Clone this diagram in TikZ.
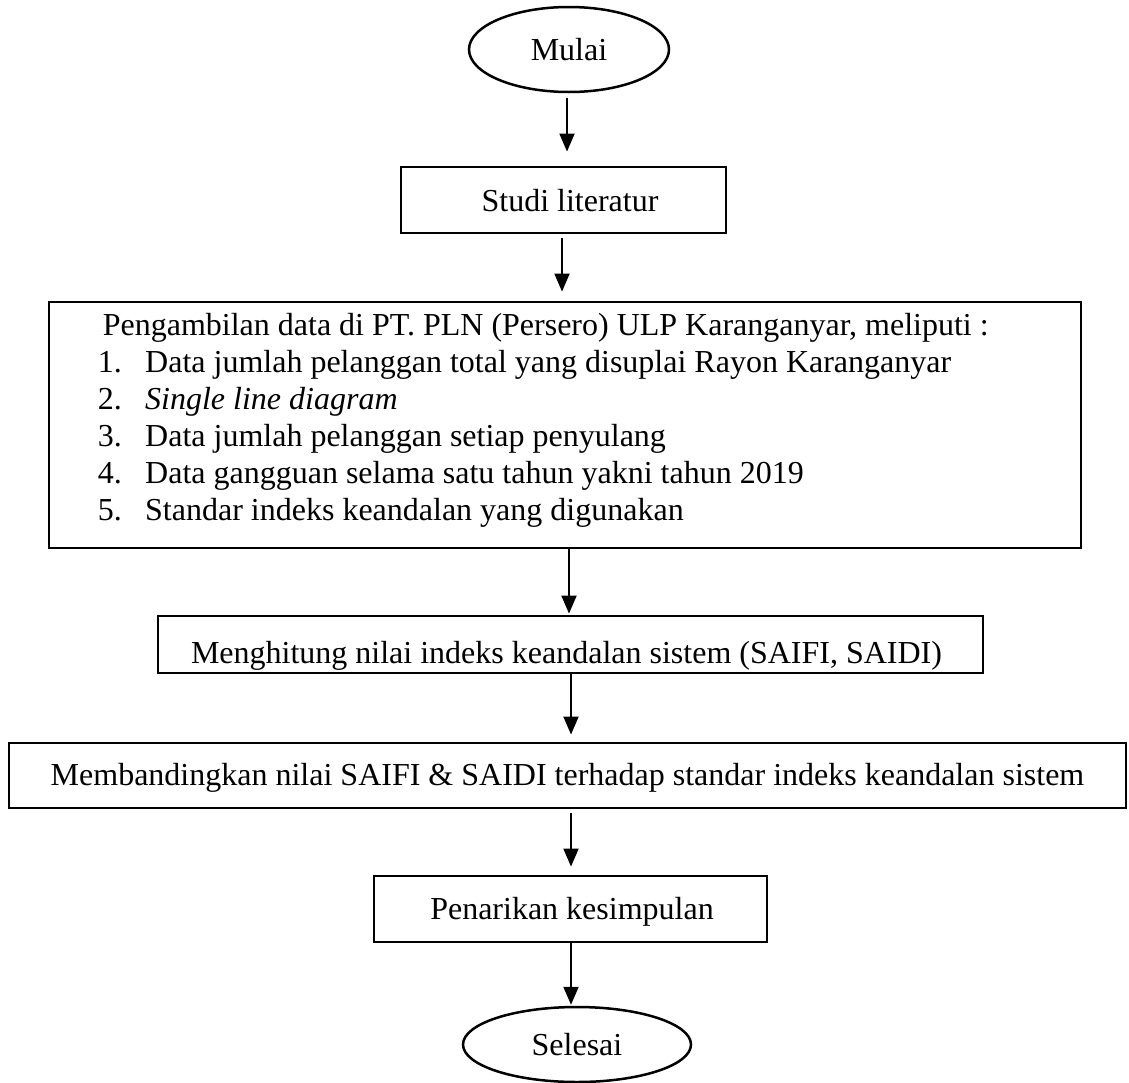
\documentclass[tikz,border=0pt]{standalone}
\usepackage{fontspec}
\setmainfont{Liberation Serif}
\usetikzlibrary{shapes.geometric,arrows.meta}
\begin{document}
\begin{tikzpicture}[x=1pt,y=-1pt,
  every node/.style={font=\fontsize{32}{37}\selectfont},
  procbox/.style={draw, line width=2.9pt, rectangle, inner sep=0pt},
  term/.style={draw, ellipse, line width=2.5pt, inner sep=0pt},
  arr/.style={line width=2pt, -{Triangle[length=18pt,width=15pt]}},
  txt/.style={anchor=base west, inner sep=0pt}]
\useasboundingbox (0,0) rectangle (1129,1082);
% terminals
\node[term, minimum width=200pt, minimum height=85pt] (mulai) at (569,49.5) {Mulai};
\node[term, minimum width=228pt, minimum height=75pt] (selesai) at (577,1044.5) {Selesai};
% process boxes
\node[procbox, minimum width=325pt, minimum height=66pt, text height=22pt, text depth=0pt] (studi) at (563.5,200) {\hspace*{13pt}Studi literatur};
\node[procbox, minimum width=1032pt, minimum height=246pt] (data) at (565,425) {};
\node[txt] (d0) at (102.6,335) {Pengambilan data di PT. PLN (Persero) ULP Karanganyar, meliputi :};
\node[txt] (d1) at (97.6,372) {\makebox[47.4pt][l]{1.}Data jumlah pelanggan total yang disuplai Rayon Karanganyar};
\node[txt] (d2) at (97.6,409) {\makebox[47.4pt][l]{2.}\textit{Single line diagram}};
\node[txt] (d3) at (97.6,446) {\makebox[47.4pt][l]{3.}Data jumlah pelanggan setiap penyulang};
\node[txt] (d4) at (97.6,483) {\makebox[47.4pt][l]{4.}Data gangguan selama satu tahun yakni tahun 2019};
\node[txt] (d5) at (97.6,520) {\makebox[47.4pt][l]{5.}Standar indeks keandalan yang digunakan};
\node[procbox, minimum width=825pt, minimum height=57pt, text height=37pt, text depth=0pt] (hitung) at (570.5,644.5) {Menghitung nilai indeks keandalan sistem (SAIFI, SAIDI)\hspace*{8pt}};
\node[procbox, minimum width=1117pt, minimum height=65pt, text height=22pt, text depth=3pt] (banding) at (567.5,775.5) {Membandingkan nilai SAIFI \& SAIDI terhadap standar indeks keandalan sistem};
\node[procbox, minimum width=393pt, minimum height=66pt, text height=22pt, text depth=2pt] (tarik) at (570.5,909) {\hspace*{3pt}Penarikan kesimpulan};
% connectors
\draw[arr] ([xshift=-2pt,yshift=-5pt]mulai.south) -- ([xshift=3.5pt,yshift=14pt]studi.north);
\draw[arr] ([xshift=-1.5pt,yshift=-4pt]studi.south) -- ([xshift=-3pt,yshift=9pt]data.north);
\draw[arr] ([xshift=4pt]data.south) -- ([xshift=-1.5pt,yshift=1pt]hitung.north);
\draw[arr] ([xshift=0.5pt]hitung.south) -- ([xshift=3.5pt,yshift=7pt]banding.north);
\draw[arr] ([xshift=3.5pt,yshift=-4pt]banding.south) -- ([xshift=0.5pt,yshift=8pt]tarik.north);
\draw[arr] ([xshift=0.5pt]tarik.south) -- ([xshift=-6pt,yshift=1pt]selesai.north);
\end{tikzpicture}
\end{document}
